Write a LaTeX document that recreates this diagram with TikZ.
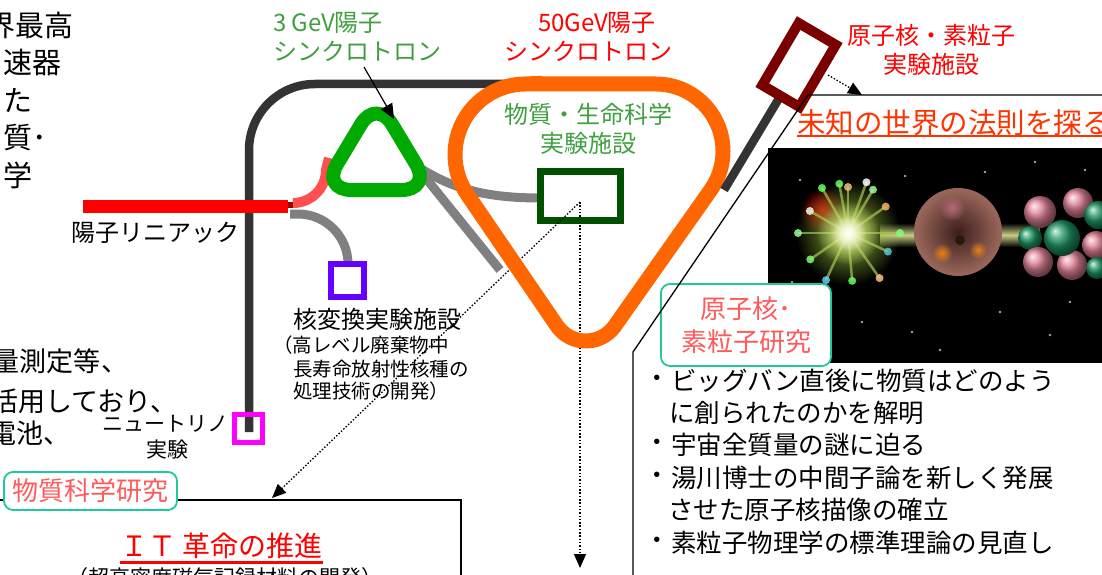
\documentclass[tikz,border=0pt]{standalone}
\usepackage{fontspec}
\setmainfont{Noto Sans CJK JP}
\usetikzlibrary{arrows.meta,fadings}

\definecolor{beamgray}{HTML}{333333}
\definecolor{linegray}{HTML}{808080}
\definecolor{linacred}{HTML}{FF0000}
\definecolor{arcred}{HTML}{FF5050}
\definecolor{stubred}{HTML}{990000}
\definecolor{rcsgreen}{HTML}{00AA00}
\definecolor{mrorange}{HTML}{FF6600}
\definecolor{mlfgreen}{HTML}{005000}
\definecolor{hadmaroon}{HTML}{7A0000}
\definecolor{adspurple}{HTML}{6600FF}
\definecolor{numagenta}{HTML}{FF00FF}
\definecolor{lblgreen}{HTML}{40A040}
\definecolor{lblred}{HTML}{FF0000}
\definecolor{tagred}{HTML}{FF5A5A}
\definecolor{tagteal}{HTML}{20C89A}
\definecolor{headred}{HTML}{FF3300}
\definecolor{glowgreen}{RGB}{150,190,60}
\definecolor{glowyellow}{RGB}{235,245,150}
\definecolor{spikecol}{RGB}{170,200,90}
\definecolor{beamglow}{RGB}{200,205,130}
\definecolor{rimbrown}{RGB}{150,100,88}
\definecolor{corebrown}{RGB}{60,30,28}
\definecolor{nucpink}{RGB}{225,130,150}
\definecolor{nucgreen}{RGB}{30,150,100}

\tikzfading[name=glow, inner color=transparent!0, outer color=transparent!100]

\newcommand\fsz[1]{\fontsize{#1pt}{#1pt}\selectfont}

\begin{document}
\begin{tikzpicture}[x=1pt, y=-1pt,
  txt/.style={inner sep=0pt, outer sep=0pt},
  beamline/.style={draw=beamgray, line width=8.5pt},
  transport/.style={draw=linegray, line width=9pt},
  panel/.style={draw=black, line width=1.3pt},
  tag/.style={draw=tagteal, line width=1.8pt, fill=white, rounded corners=9pt,
    text=tagred, inner sep=0pt, align=center},
  dotarrow/.style={line width=1.3pt, dash pattern=on 1.5pt off 1.8pt,
    -{Triangle[length=14pt,width=12pt]}},
]
\useasboundingbox (0,0) rectangle (1102,575);

% ---------- left-hand running text ----------
\begin{scope}[every node/.style={txt, anchor=west, font=\fsz{29}}]
  \node (t1) at (-13,25.5) {界最高};
  \node (t2) at (3,63) {速器};
  \node (t3) at (3,100) {た};
  \node (t4) at (3,138) {質･};
  \node (t5) at (3,175) {学};
\end{scope}
\begin{scope}[every node/.style={txt, anchor=west, font=\fsz{27}}]
  \node (u1) at (-7,361) {量測定等、};
  \node (u2) at (-9,401) {活用しており、};
  \node (u3) at (-10,433) {電池、};
\end{scope}

% ---------- materials science panel outline ----------
\draw[panel] (0,500) -- (461,500) -- (461,575);

% ---------- beam lines ----------
\draw[beamline] (249,432) -- (249,150) arc[start angle=180, end angle=270, radius=66] -- (520,84);

% transport lines from the 3 GeV ring and the linac
\draw[transport] (423,170) .. controls (450,186) and (480,198) .. (540,198);
\draw[transport] (420,171) -- (500,270);
\draw[transport] (290,214) -- (298,214) arc[start angle=270, end angle=360, radius=50] -- (348,266);
\draw[draw=arcred, line width=10pt] (293,203) arc[start angle=90, end angle=0, radius=33] -- (329,158);

% linac
\fill[linacred] (83,200) rectangle (288,213);
\fill[stubred] (288,202) rectangle (293,208);

% experimental stations
\node[draw=adspurple, line width=6pt, minimum width=33pt, minimum height=33pt, inner sep=0pt] (ads) at (347.5,280) {};
\node[draw=numagenta, line width=5pt, minimum width=28pt, minimum height=28pt, inner sep=0pt] (nu) at (248.5,428) {};

% 3 GeV rapid cycling synchrotron
\draw[draw=rcsgreen, line width=14pt, rounded corners=30pt]
  (376.5,98.5) -- (431.5,190) -- (321.5,190) -- cycle;

% materials and life science facility
\node[draw=mlfgreen, line width=7pt, fill=white, minimum width=80pt, minimum height=49pt, inner sep=0pt] (mlf) at (580.5,196) {};
\coordinate (mlfsrc) at (580,202);
\coordinate (msctip) at (272,498);
\coordinate (downtip) at (580,568);
\draw[dotarrow] (mlfsrc) -- (msctip);
\draw[dotarrow] (mlfsrc) -- (downtip);

% 50 GeV main ring
\draw[draw=mrorange, line width=15pt]
  (525.7,84) -- (655.8,84) arc[start angle=270, end angle=395.4, radius=67.2]
  -- (614.6,326.2) arc[start angle=35.4, end angle=145.6, radius=35.2]
  -- (467.4,194.6) arc[start angle=145.6, end angle=270, radius=70.7] -- cycle;

% slow extraction line to the hadron hall
\coordinate (mrext) at (724,190);
\coordinate (hallc) at (799,65);
\draw[beamline] (mrext) -- (hallc);
\node[draw=hadmaroon, line width=10pt, fill=white, minimum width=43pt, minimum height=72pt,
  inner sep=0pt, rotate=-30.4] (hall) at (hallc) {};
\coordinate (hallout) at (828,75);
\coordinate (npptip) at (862,95);
\draw[dotarrow] (hallout) -- (npptip);

% ---------- accelerator labels ----------
\node[txt, anchor=west, font=\fsz{24}, text=lblgreen] (rcs1) at (273,22.5) {3 GeV陽子};
\node[txt, anchor=west, font=\fsz{24}, text=lblgreen] (rcs2) at (273,51) {シンクロトロン};
\coordinate (rcsfrom) at (364,67);
\coordinate (rcstip) at (394,119);
\draw[line width=1.2pt, -{Triangle[length=15pt,width=13pt]}] (rcsfrom) -- (rcstip);

\node[txt, font=\fsz{24}, text=lblred] (mr1) at (597,22.5) {50GeV陽子};
\node[txt, font=\fsz{24}, text=lblred] (mr2) at (588,51) {シンクロトロン};
\node[txt, font=\fsz{24}, text=lblgreen] (mlf1) at (588,114) {物質・生命科学};
\node[txt, font=\fsz{24}, text=lblgreen] (mlf2) at (588,143.5) {実験施設};
\node[txt, font=\fsz{24}, text=lblred] (np1) at (931,35) {原子核・素粒子};
\node[txt, font=\fsz{24}, text=lblred] (np2) at (931,64) {実験施設};
\node[txt, font=\fsz{24}] (linac) at (155,233) {陽子リニアック};
\node[txt, font=\fsz{24}] (ads1) at (377,319) {核変換実験施設};
\node[txt, anchor=west, font=\fsz{19.5}] (ads2) at (273,345) {（高レベル廃棄物中};
\node[txt, anchor=west, font=\fsz{19.5}] (ads3) at (293,369.5) {長寿命放射性核種の};
\node[txt, anchor=west, font=\fsz{19.5}] (ads4) at (293,391.5) {処理技術の開発）};
\node[txt, font=\fsz{21}] (nu1) at (165,424) {ニュートリノ};
\node[txt, font=\fsz{21}] (nu2) at (167,450) {実験};

% ---------- nuclear and particle physics panel ----------
\node[txt, anchor=west, font=\fsz{28.5}, text=headred] (head) at (797,123) {未知の世界の法則を探る};
\draw[draw=headred, line width=2pt] (797,136) -- (1102,136);

% picture of a collision
\fill[black] (768,148) rectangle (1102,363);
\foreach \p in {(800,180),(905,176),(985,172),(1035,162),(1000,312),(862,322),(912,332),(1070,302),(792,282),(1050,335),(940,350),(1085,170)}
  \fill[gray!70] \p circle (1.3);
\fill[red!80!black, path fading=glow] (822,210) circle (22);
\shade[top color=black, bottom color=black, middle color=beamglow] (880,223) rectangle (1040,247);
\foreach \a/\l/\c in {-100/50/green!60!white,-70/54/white,-35/46/orange!60!white,0/52/green!50!white,
    25/44/cyan!70!white,55/55/orange!50!white,85/48/green!60!white,115/52/cyan!60!white,
    145/46/green!50!white,180/50/green!40!white,210/44/white,240/52/green!60!white,270/46/orange!50!white,300/50/green!40!white}{
  \draw[spikecol, line width=2.5pt, opacity=0.7] (848,233) -- ++(\a:\l);
  \fill[\c, opacity=0.85] (848,233) ++(\a:\l) circle (4);
}
\fill[glowgreen, path fading=glow] (848,233) circle (52);
\fill[glowyellow, path fading=glow] (848,233) circle (32);
\fill[white, path fading=glow] (848,233) circle (18);
% nucleus sphere
\fill[rimbrown] (958,232) circle (44);
\shade[inner color=corebrown, outer color=rimbrown] (958,232) circle (41);
\fill[nucpink!80!black, path fading=glow] (952,208) circle (13);
\fill[orange!70!brown, path fading=glow] (942,253) circle (10);
\fill[orange!60!brown, path fading=glow] (978,250) circle (9);
\fill[black!80!brown] (960,240) circle (5);
% cluster of nucleons
\shade[ball color=nucpink] (1040,212) circle (16);
\shade[ball color=nucpink] (1078,203) circle (15);
\shade[ball color=nucgreen] (1098,215) circle (14);
\shade[ball color=nucgreen] (1030,238) circle (12);
\shade[ball color=nucpink] (1038,262) circle (15);
\shade[ball color=nucpink] (1072,265) circle (15);
\shade[ball color=nucgreen] (1062,238) circle (18);
\shade[ball color=nucpink] (1096,245) circle (14);
\shade[ball color=nucgreen] (1097,268) circle (11);

\node[tag, minimum width=170pt, minimum height=82pt, font=\fontsize{26pt}{33pt}\selectfont] (nptag) at (746,325) {原子核･\\素粒子研究};
\draw[panel] (1102,95) -- (808,95) -- (633,352) -- (633,575);

\node[txt, font=\fsz{25.5}] (b1) at (657.5,381) {・};
\node[txt, anchor=west, font=\fsz{25.5}] (n1) at (671,381) {ビッグバン直後に物質はどのよう};
\node[txt, anchor=west, font=\fsz{25.5}] (n2) at (669,413) {に創られたのかを解明};
\node[txt, font=\fsz{25.5}] (b2) at (657.5,445) {・};
\node[txt, anchor=west, font=\fsz{25.5}] (n3) at (671,445) {宇宙全質量の謎に迫る};
\node[txt, font=\fsz{25.5}] (b3) at (657.5,478) {・};
\node[txt, anchor=west, font=\fsz{25.5}] (n4) at (671,478) {湯川博士の中間子論を新しく発展};
\node[txt, anchor=west, font=\fsz{25.5}] (n5) at (668,510) {させた原子核描像の確立};
\node[txt, font=\fsz{25.5}] (b4) at (657.5,543) {・};
\node[txt, anchor=west, font=\fsz{25.5}] (n6) at (671,543) {素粒子物理学の標準理論の見直し};

% ---------- materials science panel ----------
\node[tag, minimum width=173pt, minimum height=38pt, font=\fsz{26}] (mstag) at (90.5,491) {物質科学研究};
\node[txt, anchor=west, font=\fsz{28}, text=linacred] (it) at (120,546) {ＩＴ 革命の推進};
\draw[draw=linacred, line width=3pt] (120,562) -- (323,562);
\node[txt, font=\fsz{21}] (mag) at (225,578) {（超高密度磁気記録材料の開発）};

\end{tikzpicture}
\end{document}
